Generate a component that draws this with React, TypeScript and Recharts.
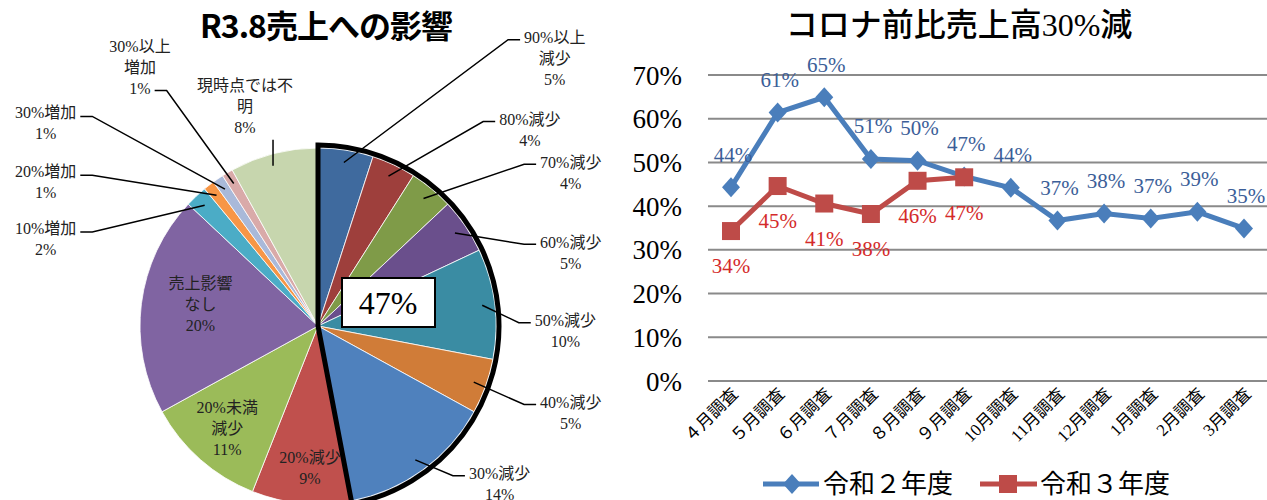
import React from "react";
import {
  PieChart,
  Pie,
  Cell,
  LineChart,
  Line,
  XAxis,
  YAxis,
  CartesianGrid,
  LabelList,
  Legend,
} from "recharts";

// ---- pie: R3.8 sales impact (share of respondents, %)
const impactNames = [
  "90%以上減少", "80%減少", "70%減少", "60%減少", "50%減少", "40%減少", "30%減少",
  "20%減少", "20%未満減少", "売上影響なし", "10%増加", "20%増加", "30%増加",
  "30%以上増加", "現時点では不明",
];
const impactShares = [5, 4, 4, 5, 10, 5, 14, 9, 11, 20, 2, 1, 1, 1, 8];
const decreaseCount = 7; // slices counted in the outlined "30%+ decrease" group

// ---- line: share with sales down 30%+ vs pre-covid
const surveyMonths = [
  "４月調査", "５月調査", "６月調査", "７月調査", "８月調査", "９月調査",
  "10月調査", "11月調査", "12月調査", "1月調査", "2月調査", "3月調査",
];
const reiwa2 = [44.3, 61.4, 64.9, 50.8, 50.4, 46.8, 44.2, 36.7, 38.3, 37.2, 38.7, 34.9];
const reiwa3 = [34.3, 44.6, 40.6, 38.2, 45.8, 46.6];
const yTicks = [0, 10, 20, 30, 40, 50, 60, 70];

const SLICE_COLORS = [
  "#3F6A9E", "#9E3F3C", "#7F9B48", "#6A4F8C", "#3A8CA3", "#D07C38", "#4F81BD",
  "#C0504D", "#9BBB59", "#8064A2", "#4BACC6", "#F79646", "#A9B9D9", "#D9AAA9", "#C7D6AE",
];

const SERIF = "'Liberation Serif', 'Times New Roman', 'DejaVu Serif', 'Noto Sans CJK JP', serif";
const BLUE = "#4A7EBB";
const RED = "#BE4B48";

// label placement, in units of the pie radius from the centre
// brk = where the name wraps, hook = where the leader line meets the text
const labelSpots = [
  { x: 1.33, y: -1.62, brk: 5, hook: "left" },
  { x: 1.19, y: -1.16, brk: 0, hook: "left" },
  { x: 1.42, y: -0.92, brk: 0, hook: "left" },
  { x: 1.42, y: -0.47, brk: 0, hook: "left" },
  { x: 1.39, y: -0.03, brk: 0, hook: "left" },
  { x: 1.42, y: 0.43, brk: 0, hook: "left" },
  { x: 1.02, y: 0.83, brk: 0, hook: "left" },
  { x: -0.045, y: 0.74, brk: 0, hook: "none" },
  { x: -0.51, y: 0.46, brk: 5, hook: "none" },
  { x: -0.66, y: -0.24, brk: 4, hook: "none" },
  { x: -1.53, y: -0.55, brk: 0, hook: "right" },
  { x: -1.53, y: -0.87, brk: 0, hook: "right" },
  { x: -1.53, y: -1.2, brk: 0, hook: "right" },
  { x: -1.0, y: -1.57, brk: 5, hook: "rightLast" },
  { x: -0.41, y: -1.35, brk: 6, hook: "below" },
];

const pieData = impactNames.map((name, i) => ({ name, value: impactShares[i] }));
const groupTotal = impactShares.slice(0, decreaseCount).reduce((a, b) => a + b, 0);
const groupData = [
  { name: "30%以上減少", value: groupTotal },
  { name: "other", value: impactShares.reduce((a, b) => a + b, 0) - groupTotal },
];

const lineData = surveyMonths.map((m, i) => ({ month: m, r2: reiwa2[i], r3: reiwa3[i] }));

const LINE_H = 21;
const textWidth = (s: string, fs: number) =>
  [...s].reduce((w, ch) => w + (ch.charCodeAt(0) > 255 ? fs : ch === "%" ? fs * 0.83 : fs * 0.5), 0);

const renderSliceLabel = (p: any) => {
  const { cx, cy, outerRadius, midAngle, index, value, name } = p;
  const spot = labelSpots[index];
  const R = outerRadius;
  const fs = 16;
  const lines = spot.brk ? [name.slice(0, spot.brk), name.slice(spot.brk)] : [name];
  lines.push(`${value}%`);
  const tx = cx + spot.x * R;
  const ty = cy + spot.y * R;
  const sx = cx + R * 0.93 * Math.cos((-midAngle * Math.PI) / 180);
  const sy = cy + R * 0.93 * Math.sin((-midAngle * Math.PI) / 180);
  let leader: React.ReactNode = null;
  if (spot.hook === "left") {
    const ex = tx - textWidth(lines[0], fs) / 2 - 4;
    leader = <polyline points={`${sx},${sy} ${ex - 12},${ty + 2} ${ex},${ty + 2}`} fill="none" stroke="#000" strokeWidth={1.5} />;
  } else if (spot.hook === "right") {
    const ex = tx + textWidth(lines[0], fs) / 2 + 4;
    leader = <polyline points={`${sx},${sy} ${ex + 12},${ty + 4} ${ex},${ty + 4}`} fill="none" stroke="#000" strokeWidth={1.5} />;
  } else if (spot.hook === "rightLast") {
    const ly = ty + LINE_H * (lines.length - 1);
    const ex = tx + textWidth(lines[lines.length - 1], fs) / 2 + 4;
    leader = <polyline points={`${sx},${sy} ${ex + 12},${ly + 2} ${ex},${ly + 2}`} fill="none" stroke="#000" strokeWidth={1.5} />;
  } else if (spot.hook === "below") {
    const ly = ty + LINE_H * (lines.length - 1) + 12;
    leader = <polyline points={`${tx + 28},${sy} ${tx + 28},${ly}`} fill="none" stroke="#000" strokeWidth={1.5} />;
  }
  return (
    <g key={`lbl-${index}`}>
      {leader}
      <text x={tx} y={ty} textAnchor="middle" fontFamily={SERIF} fontSize={fs} fill="#222">
        {lines.map((l, i) => (
          <tspan key={i} x={tx} y={ty + i * LINE_H} dy="0.35em">
            {l}
          </tspan>
        ))}
      </text>
    </g>
  );
};

const renderGroupLabel = (p: any) => {
  const { cx, cy, index, value } = p;
  if (index !== 0) return <g key="g1" />;
  return (
    <g key="g0">
      <rect x={cx + 24} y={cy - 48} width={93} height={49} fill="#fff" stroke="#000" strokeWidth={2} />
      <text x={cx + 70} y={cy - 23} textAnchor="middle" dy="0.35em" fontFamily={SERIF} fontSize={32} fill="#000">
        {`${value}%`}
      </text>
    </g>
  );
};

const Diamond = (p: any) => {
  const { cx, cy, index } = p;
  if (cy == null) return <g key={`d${index}`} />;
  return <path key={`d${index}`} d={`M${cx},${cy - 10} L${cx + 9},${cy} L${cx},${cy + 10} L${cx - 9},${cy} Z`} fill={BLUE} />;
};

const Square = (p: any) => {
  const { cx, cy, index } = p;
  if (cy == null) return <g key={`s${index}`} />;
  return <rect key={`s${index}`} x={cx - 9} y={cy - 9} width={18} height={18} fill={RED} />;
};

const MonthTick = (p: any) => {
  const { x, y, payload } = p;
  const ax = x + 8;
  const ay = y + 6;
  return (
    <text x={ax} y={ay} textAnchor="end" transform={`rotate(-45, ${ax}, ${ay})`} fontFamily={SERIF} fontSize={17} fill="#000">
      {payload.value}
    </text>
  );
};

const LegendBox = () => (
  <svg width={667} height={34}>
    <g>
      <line x1={163} y1={17} x2={219} y2={17} stroke={BLUE} strokeWidth={5} />
      <path d="M192,7 L201,17 L192,27 L183,17 Z" fill={BLUE} />
      <text x={223} y={17} dy="0.35em" fontFamily={SERIF} fontSize={26} fill="#000">令和２年度</text>
    </g>
    <g>
      <line x1={380} y1={17} x2={437} y2={17} stroke={RED} strokeWidth={5} />
      <rect x={399} y={8} width={18} height={18} fill={RED} />
      <text x={440} y={17} dy="0.35em" fontFamily={SERIF} fontSize={26} fill="#000">令和３年度</text>
    </g>
  </svg>
);

export default function App() {
  return (
    <div style={{ position: "absolute", left: 0, top: 0, width: 1267, height: 500, background: "#fff", overflow: "hidden" }}>
      <div style={{ position: "absolute", left: 0, top: 4, width: 652, textAlign: "center", fontFamily: "'Noto Sans CJK JP', sans-serif", fontWeight: 700, fontSize: 32, lineHeight: "40px", letterSpacing: -1 }}>
        R3.8売上への影響
      </div>
      <div style={{ position: "absolute", left: 600, top: 4, width: 718, textAlign: "center", fontFamily: SERIF, fontWeight: 500, fontSize: 32, lineHeight: "42px" }}>
        コロナ前比売上高30%減
      </div>
      <div style={{ position: "absolute", left: 0, top: 0 }}>
        <PieChart width={620} height={500} margin={{ top: 0, right: 0, bottom: 0, left: 0 }}>
          <Pie
            data={pieData}
            dataKey="value"
            nameKey="name"
            cx={318}
            cy={326}
            outerRadius={178}
            startAngle={90}
            endAngle={-270}
            isAnimationActive={false}
            labelLine={false}
            label={renderSliceLabel}
            stroke="#fff"
            strokeWidth={0.8}
          >
            {pieData.map((_, i) => (
              <Cell key={i} fill={SLICE_COLORS[i]} />
            ))}
          </Pie>
          <Pie
            data={groupData}
            dataKey="value"
            cx={318}
            cy={326}
            outerRadius={181}
            startAngle={90}
            endAngle={-270}
            isAnimationActive={false}
            labelLine={false}
            label={renderGroupLabel}
          >
            <Cell fill="none" stroke="#000" strokeWidth={5} />
            <Cell fill="none" stroke="none" />
          </Pie>
        </PieChart>
      </div>
      <div style={{ position: "absolute", left: 600, top: 0 }}>
        <LineChart width={667} height={500} data={lineData} margin={{ top: 75, right: 0, left: 0, bottom: 39 }}>
          <CartesianGrid vertical={false} stroke="#8A8A8A" strokeWidth={2} />
          <XAxis
            dataKey="month"
            interval={0}
            tick={<MonthTick />}
            tickLine={false}
            axisLine={false}
            height={80}
            padding={{ left: 23, right: 23 }}
          />
          <YAxis
            domain={[0, 70]}
            ticks={yTicks}
            tickFormatter={(v) => `${v}%`}
            width={108}
            axisLine={false}
            tickLine={false}
            tickMargin={20}
            tick={{ fontSize: 27, fill: "#000", fontFamily: SERIF }}
          />
          <Line dataKey="r2" stroke={BLUE} strokeWidth={5} dot={Diamond} activeDot={false} isAnimationActive={false}>
            <LabelList
              dataKey="r2"
              content={(p: any) => (
                <text x={p.x + 2} y={p.y - 33} dy="0.35em" textAnchor="middle" fontFamily={SERIF} fontSize={21} fill="#3B5E98">
                  {`${Math.round(p.value)}%`}
                </text>
              )}
            />
          </Line>
          <Line dataKey="r3" stroke={RED} strokeWidth={5} dot={Square} activeDot={false} isAnimationActive={false}>
            <LabelList
              dataKey="r3"
              content={(p: any) =>
                p.value == null ? null : (
                  <text x={p.x} y={p.y + 35} dy="0.35em" textAnchor="middle" fontFamily={SERIF} fontSize={21} fill="#D42A2A">
                    {`${Math.round(p.value)}%`}
                  </text>
                )
              }
            />
          </Line>
          <Legend verticalAlign="middle" align="center" wrapperStyle={{ top: 467, left: 0, width: 667 }} content={() => <LegendBox />} />
        </LineChart>
      </div>
    </div>
  );
}
